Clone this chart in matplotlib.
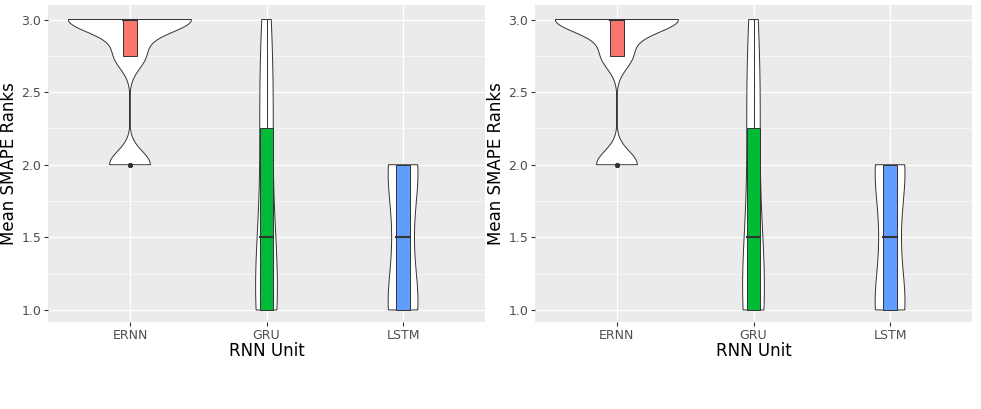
import numpy as np
import matplotlib.pyplot as plt

units = ["ERNN", "GRU", "LSTM"]
ernn = [3] * 12 + [2.75] * 3 + [2] * 4
gru = [1, 1, 1, 1, 1.5, 1.5, 2.25, 2.25, 2.75, 3]
lstm = [1, 1, 1, 1, 1.5, 1.5, 2, 2, 2, 2]
groups = [ernn, gru, lstm]
fills = ["#F8766D", "#00BA38", "#619CFF"]


def nrd0(x):
    x = np.asarray(x, float)
    sd = x.std(ddof=1)
    iqr = (np.percentile(x, 75) - np.percentile(x, 25)) / 1.34
    lo = min(sd, iqr) if iqr > 0 else sd
    return 0.9 * lo * len(x) ** -0.2


def kde(x):
    x = np.asarray(x, float)
    bw = nrd0(x)
    ys = np.linspace(x.min(), x.max(), 300)
    d = np.exp(-0.5 * ((ys[:, None] - x[None, :]) / bw) ** 2).sum(1) / (len(x) * bw * np.sqrt(2 * np.pi))
    return ys, d


dens = [kde(g) for g in groups]
dmax = max(d.max() for _, d in dens)

fig = plt.figure(figsize=(9.81, 4.09), dpi=100)
for left in (48, 535):
    ax = fig.add_axes([left / 981, 1 - 322 / 409, 437 / 981, 317 / 409])
    ax.set_facecolor("#EBEBEB")
    for s in ax.spines.values():
        s.set_visible(False)
    for y in [1.25, 1.75, 2.25, 2.75]:
        ax.axhline(y, color="white", lw=0.4, zorder=0)
    for y in [1, 1.5, 2, 2.5, 3]:
        ax.axhline(y, color="white", lw=0.9, zorder=0)
    for i in range(3):
        ax.axvline(i + 1, color="white", lw=0.9, zorder=0)

    for i, (g, (ys, d)) in enumerate(zip(groups, dens)):
        x0 = i + 1
        w = d / dmax * 0.45
        ax.fill(np.concatenate([x0 - w, (x0 + w)[::-1]]), np.concatenate([ys, ys[::-1]]),
                facecolor="white", edgecolor="#333333", lw=0.7, zorder=2)
        q1, med, q3 = np.percentile(g, [25, 50, 75])
        iqr = q3 - q1
        arr = np.asarray(g)
        inl = arr[(arr >= q1 - 1.5 * iqr) & (arr <= q3 + 1.5 * iqr)]
        ax.plot([x0, x0], [inl.min(), q1], color="#333333", lw=0.7, zorder=3)
        ax.plot([x0, x0], [q3, inl.max()], color="#333333", lw=0.7, zorder=3)
        ax.add_patch(plt.Rectangle((x0 - 0.05, q1), 0.1, q3 - q1, facecolor=fills[i],
                                   edgecolor="#333333", lw=0.7, zorder=3))
        ax.plot([x0 - 0.05, x0 + 0.05], [med, med], color="#333333", lw=1.5, zorder=4)
        out = arr[(arr < q1 - 1.5 * iqr) | (arr > q3 + 1.5 * iqr)]
        ax.scatter(np.full(len(out), x0), out, s=6, color="#333333", zorder=5)

    ax.set_xlim(0.4, 3.6)
    ax.set_ylim(0.917, 3.1)
    ax.set_xticks([1, 2, 3])
    ax.set_xticklabels(units)
    ax.set_yticks([1, 1.5, 2, 2.5, 3])
    ax.set_yticklabels(["1.0", "1.5", "2.0", "2.5", "3.0"])
    ax.tick_params(colors="#333333", labelcolor="#4D4D4D", labelsize=9, length=3, pad=2)
    ax.set_xlabel("RNN Unit", fontsize=12, labelpad=0)
    ax.set_ylabel("Mean SMAPE Ranks", fontsize=12, labelpad=2)

fig.savefig("out.png", dpi=100)
